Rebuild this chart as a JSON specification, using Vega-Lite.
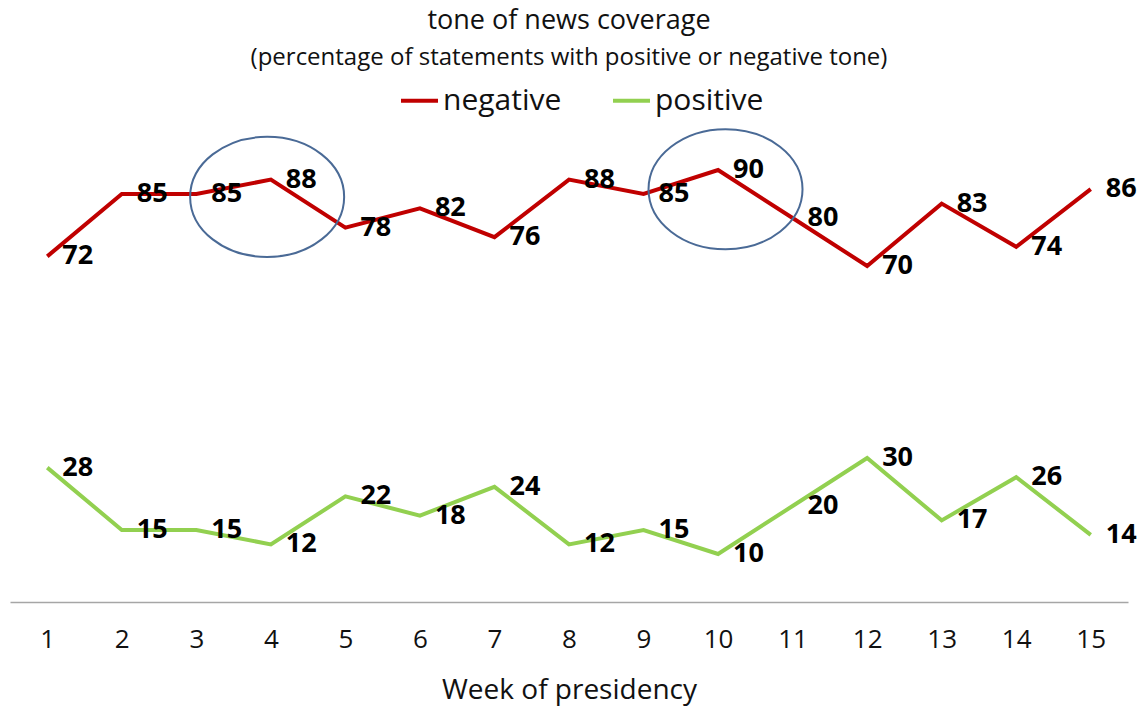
{
  "$schema": "https://vega.github.io/schema/vega-lite/v6.json",
  "width": 1118,
  "height": 480,
  "autosize": {"type": "none"},
  "padding": {"left": 10, "top": 122, "right": 18, "bottom": 106},
  "background": "white",
  "config": {
    "view": {"stroke": null},
    "font": "Open Sans",
    "title": {"font": "Open Sans", "color": "#111111"}
  },
  "title": {
    "text": "tone of news coverage",
    "subtitle": "(percentage of statements with positive or negative tone)",
    "fontSize": 27,
    "fontWeight": "normal",
    "subtitleFontSize": 24,
    "subtitleColor": "#111111",
    "subtitleFont": "Open Sans",
    "subtitlePadding": 11,
    "anchor": "middle",
    "frame": "group",
    "offset": 9
  },
  "datasets": {
    "tone": [
      {"week": 1, "tone": "negative", "value": 72},
      {"week": 2, "tone": "negative", "value": 85},
      {"week": 3, "tone": "negative", "value": 85},
      {"week": 4, "tone": "negative", "value": 88},
      {"week": 5, "tone": "negative", "value": 78},
      {"week": 6, "tone": "negative", "value": 82},
      {"week": 7, "tone": "negative", "value": 76},
      {"week": 8, "tone": "negative", "value": 88},
      {"week": 9, "tone": "negative", "value": 85},
      {"week": 10, "tone": "negative", "value": 90},
      {"week": 11, "tone": "negative", "value": 80},
      {"week": 12, "tone": "negative", "value": 70},
      {"week": 13, "tone": "negative", "value": 83},
      {"week": 14, "tone": "negative", "value": 74},
      {"week": 15, "tone": "negative", "value": 86},
      {"week": 1, "tone": "positive", "value": 28},
      {"week": 2, "tone": "positive", "value": 15},
      {"week": 3, "tone": "positive", "value": 15},
      {"week": 4, "tone": "positive", "value": 12},
      {"week": 5, "tone": "positive", "value": 22},
      {"week": 6, "tone": "positive", "value": 18},
      {"week": 7, "tone": "positive", "value": 24},
      {"week": 8, "tone": "positive", "value": 12},
      {"week": 9, "tone": "positive", "value": 15},
      {"week": 10, "tone": "positive", "value": 10},
      {"week": 11, "tone": "positive", "value": 20},
      {"week": 12, "tone": "positive", "value": 30},
      {"week": 13, "tone": "positive", "value": 17},
      {"week": 14, "tone": "positive", "value": 26},
      {"week": 15, "tone": "positive", "value": 14}
    ],
    "highlights": [
      {"week": 3.95, "value": 84.4},
      {"week": 10.1, "value": 86}
    ]
  },
  "encoding": {
    "x": {
      "field": "week",
      "type": "quantitative",
      "scale": {"domain": [0.5, 15.5], "nice": false, "zero": false},
      "axis": {
        "values": [1, 2, 3, 4, 5, 6, 7, 8, 9, 10, 11, 12, 13, 14, 15],
        "format": "d",
        "title": "Week of presidency",
        "titleFont": "Open Sans",
        "titleFontSize": 28,
        "titleFontWeight": "normal",
        "titleColor": "#111111",
        "titlePadding": 24,
        "labelFont": "Open Sans",
        "labelFontSize": 26,
        "labelColor": "#111111",
        "labelPadding": 24,
        "ticks": false,
        "grid": false,
        "domainColor": "#a6a6a6",
        "domainWidth": 1.5
      }
    },
    "y": {
      "field": "value",
      "type": "quantitative",
      "scale": {"domain": [0, 100], "nice": false},
      "axis": null
    }
  },
  "layer": [
    {
      "data": {"name": "tone"},
      "mark": {"type": "line", "strokeWidth": 4, "strokeJoin": "miter"},
      "encoding": {
        "color": {
          "field": "tone",
          "type": "nominal",
          "scale": {"domain": ["negative", "positive"], "range": ["#C00000", "#92D050"]},
          "legend": {
            "orient": "none",
            "legendX": 389,
            "legendY": -42,
            "direction": "horizontal",
            "title": null,
            "symbolType": "stroke",
            "symbolSize": 1369,
            "symbolStrokeWidth": 4,
            "labelFont": "Open Sans",
            "labelFontSize": 30,
            "labelColor": "#111111",
            "labelOffset": 3,
            "columnPadding": 43,
            "labelLimit": 300
          }
        }
      }
    },
    {
      "data": {"name": "tone"},
      "mark": {
        "type": "text",
        "align": "left",
        "baseline": "middle",
        "dx": 15,
        "font": "Open Sans",
        "fontSize": 27,
        "fontWeight": "bold",
        "color": "#000000"
      },
      "encoding": {
        "text": {"field": "value", "type": "quantitative"}
      }
    },
    {
      "data": {"name": "highlights"},
      "mark": {
        "type": "point",
        "shape": "M -1 0 A 1 0.78 0 1 0 1 0 A 1 0.78 0 1 0 -1 0 Z",
        "size": 23716,
        "filled": false,
        "stroke": "#4A6A96",
        "strokeWidth": 2,
        "opacity": 1
      }
    }
  ]
}
